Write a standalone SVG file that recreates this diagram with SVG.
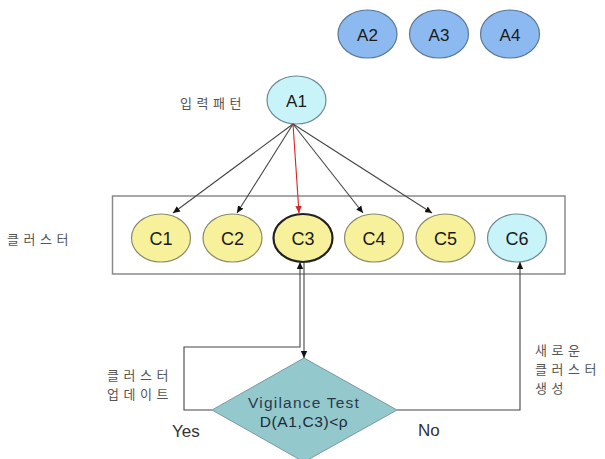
<svg xmlns="http://www.w3.org/2000/svg" width="605" height="459" viewBox="0 0 605 459">
<style>
.lbl{font-family:"Liberation Sans",Arial,sans-serif;fill:#1a1a1a;text-anchor:middle;dominant-baseline:central}
.kr{font-family:"Noto Sans CJK KR","Noto Sans",sans-serif;fill:#555;font-size:13px;letter-spacing:4.5px}
.en{font-family:"Liberation Sans",Arial,sans-serif;fill:#333;font-size:17px}
.blue{fill:#8cb9ef;stroke:#5a7898;stroke-width:1.2}
.cyan{fill:#c8f3f9;stroke:#6a8a98;stroke-width:1.2}
.yel{fill:#f7f19c;stroke:#8a8a6a;stroke-width:1.2}
.con{fill:none;stroke:#444;stroke-width:1.1}
</style>
<defs>
<marker id="ah" markerWidth="8" markerHeight="8" refX="7" refY="4" orient="auto" markerUnits="userSpaceOnUse">
<path d="M0,0.8 L7,4 L0,7.2 Z" fill="#111"/>
</marker>
<marker id="ahr" markerWidth="8" markerHeight="8" refX="7" refY="4" orient="auto" markerUnits="userSpaceOnUse">
<path d="M0,0.8 L7,4 L0,7.2 Z" fill="#e02020"/>
</marker>
</defs>
<rect width="605" height="459" fill="#fff"/>
<g id="A2"><ellipse class="blue" cx="367.5" cy="34" rx="29.5" ry="24"/><text class="lbl" x="367.5" y="35" font-size="17">A2</text></g>
<g id="A3"><ellipse class="blue" cx="439" cy="34" rx="29.5" ry="24"/><text class="lbl" x="439" y="35" font-size="17">A3</text></g>
<g id="A4"><ellipse class="blue" cx="510" cy="34" rx="29.5" ry="24"/><text class="lbl" x="510" y="35" font-size="17">A4</text></g>
<g id="A1"><ellipse class="cyan" cx="296.5" cy="100" rx="29.5" ry="24"/><text class="lbl" x="296.5" y="101" font-size="17">A1</text></g>
<text class="kr" x="180" y="108">입력패턴</text>
<g id="cluster-box"><rect x="112.5" y="196" width="452.5" height="78" fill="none" stroke="#8a8a8a" stroke-width="1.5"/></g>
<text class="kr" x="7" y="244">클러스터</text>
<g id="C1"><ellipse class="yel" cx="161" cy="238" rx="29.5" ry="24"/><text class="lbl" x="161" y="239" font-size="18">C1</text></g>
<g id="C2"><ellipse class="yel" cx="232.5" cy="238" rx="29.5" ry="24"/><text class="lbl" x="232.5" y="239" font-size="18">C2</text></g>
<g id="C3"><ellipse cx="303" cy="238" rx="29.5" ry="24" fill="#f7f19c" stroke="#222" stroke-width="2.2"/><text class="lbl" x="303" y="239" font-size="18">C3</text></g>
<g id="C4"><ellipse class="yel" cx="374" cy="238" rx="29.5" ry="24"/><text class="lbl" x="374" y="239" font-size="18">C4</text></g>
<g id="C5"><ellipse class="yel" cx="445.5" cy="238" rx="29.5" ry="24"/><text class="lbl" x="445.5" y="239" font-size="18">C5</text></g>
<g id="C6"><ellipse class="cyan" cx="517" cy="238" rx="29.5" ry="24"/><text class="lbl" x="517" y="239" font-size="18">C6</text></g>
<g id="test"><polygon points="304,358 397,410 304,462 212,410" fill="#93c8cc" stroke="#7a9aa0" stroke-width="1"/>
<text x="304" y="402" font-family="'Liberation Sans',Arial,sans-serif" font-size="15.5" letter-spacing="1.2" fill="#2a3a4a" text-anchor="middle" dominant-baseline="central">Vigilance Test</text>
<text x="304" y="421" font-family="'Liberation Sans',Arial,sans-serif" font-size="15.5" letter-spacing="0.6" fill="#1a2a3a" text-anchor="middle" dominant-baseline="central">D(A1,C3)&lt;ρ</text></g>
<g id="connectors">
<line class="con" x1="293" y1="124" x2="173" y2="213" marker-end="url(#ah)"/>
<line class="con" x1="293" y1="124" x2="237" y2="213" marker-end="url(#ah)"/>
<line x1="293" y1="124" x2="299" y2="213" stroke="#e02020" stroke-width="1.1" marker-end="url(#ahr)"/>
<line class="con" x1="293" y1="124" x2="363" y2="213" marker-end="url(#ah)"/>
<line class="con" x1="293" y1="124" x2="432" y2="213" marker-end="url(#ah)"/>
<line class="con" x1="304" y1="262" x2="304" y2="358" marker-end="url(#ah)"/>
<polyline class="con" points="212,410 184,410 184,347 300,347 300,262" marker-end="url(#ah)"/>
<polyline class="con" points="397,410 520,410 520,262" marker-end="url(#ah)"/>
</g>
<text class="kr" x="107" y="380">클러스터</text>
<text class="kr" x="107" y="399">업데이트</text>
<text class="en" x="172" y="437">Yes</text>
<text class="en" x="418" y="436">No</text>
<text class="kr" x="535" y="355">새로운</text>
<text class="kr" x="535" y="374">클러스터</text>
<text class="kr" x="535" y="393">생성</text>
</svg>
